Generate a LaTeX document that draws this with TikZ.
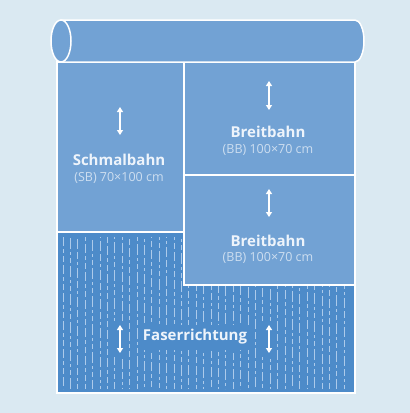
\documentclass[tikz,border=0pt]{standalone}
\usepackage{fontspec}
\setmainfont{Open Sans}
\usetikzlibrary{arrows.meta}

\definecolor{bgblue}{RGB}{218,233,242}
\definecolor{sheetblue}{RGB}{114,162,212}
\definecolor{fiberblue}{RGB}{77,139,201}
\definecolor{fiberdash}{RGB}{172,202,234}
\definecolor{titletext}{RGB}{238,244,251}
\definecolor{subtext}{RGB}{205,222,240}

\begin{document}
\begin{tikzpicture}
	 [x=1pt,y=-1pt,every node/.style={align=center,inner sep=0pt,text=titletext},
	  title/.style={font=\bfseries\fontsize{15}{17}\selectfont},
	  sub/.style={font=\fontsize{12.5}{14}\selectfont,text=subtext},
	  panel/.style={draw=white,line width=1.5pt,fill=sheetblue},
	  clear/.style={fill=fiberblue},
	  flow/.style={draw=white,line width=1.3pt,{Triangle[width=6pt,length=5pt]}-{Triangle[width=6pt,length=5pt]}},
	  fiberline/.style={draw=fiberdash,line width=1pt}]

	\fill[bgblue] (0,0) rectangle (410,413);

	% fibre area
	\fill[fiberblue] (57,232) rectangle (355,393);
	\foreach \i in {0,...,38} {
	  \pgfmathsetmacro\xx{63+7.4*\i}
	  \pgfmathsetmacro\ph{mod(\i*7,23)}
	  \pgfmathtruncatemacro\k{mod(\i,3)}
	  \ifcase\k
	    \draw[fiberline,dash pattern=on 9pt off 3pt on 4pt off 3pt on 6pt off 3pt,dash phase=\ph pt] (\xx,237) -- (\xx,389);
	  \or
	    \draw[fiberline,dash pattern=on 5pt off 3pt on 11pt off 3pt on 3pt off 3pt,dash phase=\ph pt] (\xx,237) -- (\xx,389);
	  \else
	    \draw[fiberline,dash pattern=on 7pt off 3pt on 3pt off 3pt on 10pt off 3pt,dash phase=\ph pt] (\xx,237) -- (\xx,389);
	  \fi
	}
	\node[clear,minimum width=16pt,minimum height=36pt] (c1) at (120,339) {};
	\node[clear,minimum width=16pt,minimum height=36pt] (c2) at (269,339) {};
	\node[title,clear,inner sep=5pt] (fr) at (195,337) {Faserrichtung};
	\draw[flow] (120,325) -- (120,353);
	\draw[flow] (269,325) -- (269,353);

	% sheet panels
	\draw[panel] (57,62) rectangle (184,232);
	\draw[panel] (184,62) rectangle (355,175);
	\draw[panel] (184,175) rectangle (355,285);
	\draw[draw=white,line width=1.5pt] (57,62) rectangle (355,393);

	% roll
	\draw[panel] (61,20) -- (355,20) arc[start angle=-90,end angle=90,x radius=9,y radius=21] -- (61,62) -- cycle;
	\draw[panel] (61,41) ellipse[x radius=10,y radius=21];

	% labels
	\node[title] (sb) at (119,160) {Schmalbahn};
	\node[sub] (sbs) at (119,178) {(SB) 70×100 cm};
	\node[title] (bb1) at (268,132) {Breitbahn};
	\node[sub] (bb1s) at (268,150) {(BB) 100×70 cm};
	\node[title] (bb2) at (268,241) {Breitbahn};
	\node[sub] (bb2s) at (268,258) {(BB) 100×70 cm};

	\draw[flow] (120,107) -- (120,135);
	\draw[flow] (269,81) -- (269,110);
	\draw[flow] (269,189) -- (269,217);

\end{tikzpicture}
\end{document}
